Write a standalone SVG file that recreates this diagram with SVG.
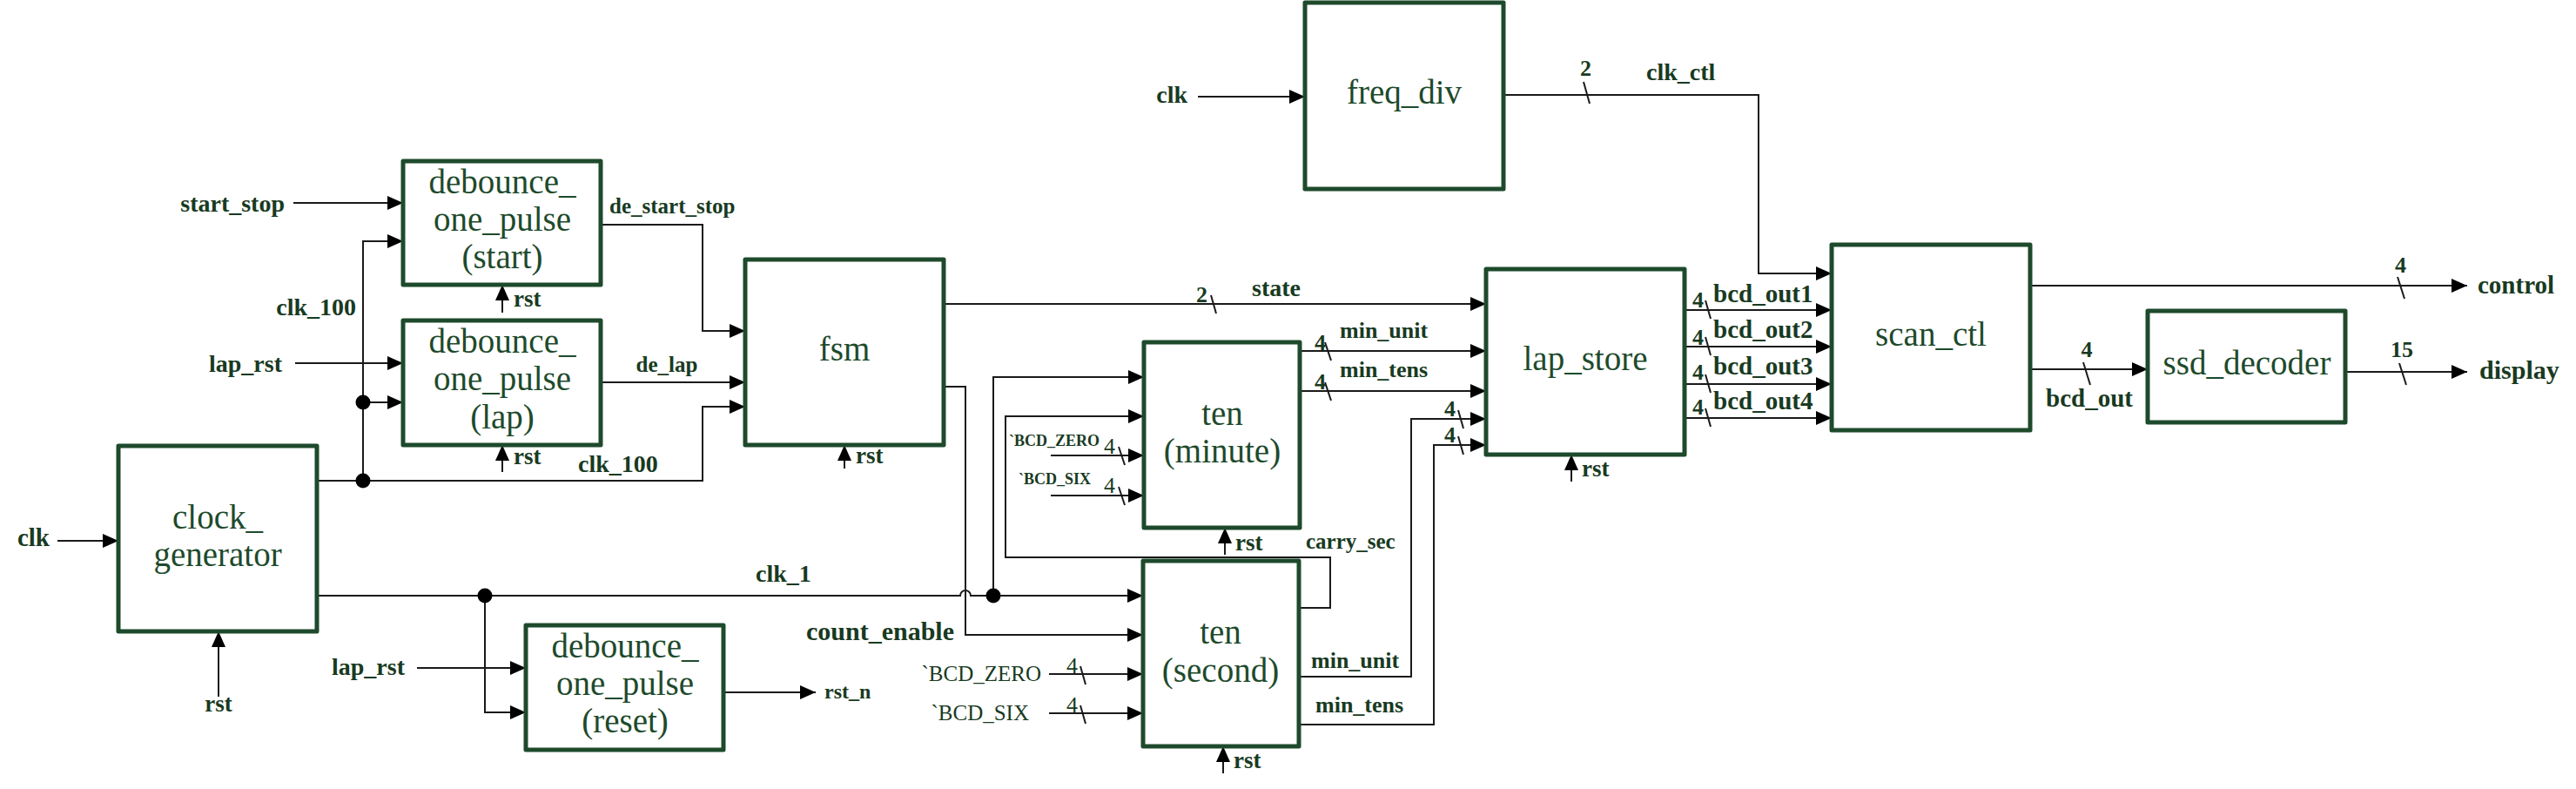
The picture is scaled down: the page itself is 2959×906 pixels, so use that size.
<svg xmlns="http://www.w3.org/2000/svg" width="2959" height="906" viewBox="0 0 2959 906">
<defs>
<style>
.box{fill:#fff;stroke:#1e4a2c;stroke-width:5;stroke-linejoin:round}
.bt{font-family:"Liberation Serif","Times New Roman",serif;font-size:39px;fill:#1e4a2c;text-anchor:middle}
.w{fill:none;stroke:#1a1a1a;stroke-width:2}
.a{marker-end:url(#arr)}
.dot{fill:#000}
.lb{font-family:"Liberation Serif","Times New Roman",serif;font-weight:bold;fill:#183a22;font-size:28px}
.sm{font-size:26px}
.r{font-family:"Liberation Serif","Times New Roman",serif;fill:#183a22}
.e{text-anchor:end}
.m{text-anchor:middle}
.sl{stroke:#1a1a1a;stroke-width:2}
</style>
<marker id="arr" markerUnits="userSpaceOnUse" markerWidth="18" markerHeight="16" refX="18" refY="8" orient="auto">
<path d="M0,0 L18,8 L0,16 Z" fill="#000"/>
</marker>
</defs>
<rect width="2959" height="906" fill="#fff"/>

<g id="connectors">
<path class="w a" d="M66,621 H136"/>
<path class="w a" d="M251,800 V725"/>
<path class="w a" d="M364,552 H807 V467 H856"/>
<path class="w a" d="M417,552 V277 H463"/>
<path class="w a" d="M417,462 H463"/>
<circle class="dot" cx="417" cy="552" r="8.5"/>
<circle class="dot" cx="417" cy="462" r="8.5"/>
<path class="w a" d="M337,233 H463"/>
<path class="w a" d="M339,417 H463"/>
<path class="w a" d="M577,359 V327"/>
<path class="w a" d="M577,542 V511"/>
<path class="w a" d="M690,258 H807 V380 H856"/>
<path class="w a" d="M690,439 H856"/>
<path class="w a" d="M970,538 V511"/>
<path class="w a" d="M1084,349 H1707"/>
<line class="sl" x1="1391" y1="339" x2="1397" y2="360"/>
<path class="w a" d="M1084,444 H1109 V729 H1313"/>
<path class="w a" d="M364,684 H1103 A6,6 0 0 1 1115,684 H1313"/>
<path class="w a" d="M1141,684 V433 H1314"/>
<path class="w a" d="M557,684 V818 H604"/>
<circle class="dot" cx="557" cy="684" r="8.5"/>
<circle class="dot" cx="1141" cy="684" r="8.5"/>
<path class="w a" d="M1492,698 H1528 V640 H1155 V478 H1314"/>
<path class="w a" d="M1407,637 V606"/>
<path class="w a" d="M1405,888 V857"/>
<path class="w a" d="M1207,523 H1314"/>
<line class="sl" x1="1285" y1="513" x2="1292" y2="534"/>
<path class="w a" d="M1207,569 H1314"/>
<line class="sl" x1="1285" y1="559" x2="1292" y2="580"/>
<path class="w a" d="M1205,774 H1313"/>
<line class="sl" x1="1241" y1="765" x2="1247" y2="786"/>
<path class="w a" d="M1205,819 H1313"/>
<line class="sl" x1="1241" y1="810" x2="1247" y2="831"/>
<path class="w a" d="M1493,403 H1707"/>
<line class="sl" x1="1522" y1="393" x2="1529" y2="414"/>
<path class="w a" d="M1493,449 H1707"/>
<line class="sl" x1="1522" y1="439" x2="1529" y2="460"/>
<path class="w a" d="M1492,777 H1621 V481 H1707"/>
<line class="sl" x1="1675" y1="471" x2="1681" y2="492"/>
<path class="w a" d="M1492,832 H1647 V511 H1707"/>
<line class="sl" x1="1675" y1="501" x2="1681" y2="522"/>
<path class="w a" d="M1805,553 V522"/>
<path class="w a" d="M1935,356 H2104"/>
<line class="sl" x1="1959" y1="345" x2="1965" y2="366"/>
<path class="w a" d="M1935,398 H2104"/>
<line class="sl" x1="1959" y1="387" x2="1965" y2="408"/>
<path class="w a" d="M1935,441 H2104"/>
<line class="sl" x1="1959" y1="430" x2="1965" y2="451"/>
<path class="w a" d="M1935,480 H2104"/>
<line class="sl" x1="1959" y1="469" x2="1965" y2="490"/>
<path class="w a" d="M1376,111 H1499"/>
<path class="w a" d="M1727,109 H2020 V314 H2104"/>
<line class="sl" x1="1819" y1="94" x2="1826" y2="119"/>
<path class="w a" d="M2332,328 H2834"/>
<line class="sl" x1="2754" y1="318" x2="2762" y2="343"/>
<path class="w a" d="M2332,424 H2467"/>
<line class="sl" x1="2393" y1="416" x2="2401" y2="442"/>
<path class="w a" d="M2694,427 H2834"/>
<line class="sl" x1="2756" y1="417" x2="2764" y2="442"/>
<path class="w a" d="M479,767 H604"/>
<path class="w a" d="M831,795 H937"/>

<text class="lb e" x="57" y="627" style="font-size:29px">clk</text>
<text class="lb m" x="251" y="817" style="font-size:27px">rst</text>
<text class="lb e" x="327" y="243">start_stop</text>
<text class="lb e" x="324" y="427">lap_rst</text>
<text class="lb e" x="409" y="362">clk_100</text>
<text class="lb" x="664" y="542">clk_100</text>
<text class="lb" x="590" y="352" style="font-size:27px">rst</text>
<text class="lb" x="590" y="533" style="font-size:27px">rst</text>
<text class="lb" x="700" y="245" style="font-size:25px">de_start_stop</text>
<text class="lb m" x="766" y="427" style="font-size:25px">de_lap</text>
<text class="lb" x="983" y="532" style="font-size:27px">rst</text>
<text class="lb sm" x="1374" y="347">2</text>
<text class="lb" x="1438" y="340">state</text>
<text class="lb e" x="1096" y="735" style="font-size:30px">count_enable</text>
<text class="lb" x="868" y="668">clk_1</text>
<text class="lb" x="1500" y="630" style="font-size:25px">carry_sec</text>
<text class="lb" x="1419" y="632" style="font-size:27px">rst</text>
<text class="lb" x="1417" y="882" style="font-size:27px">rst</text>
<text class="lb e" x="1263" y="512" style="font-size:18px">`BCD_ZERO</text>
<text class="lb e" x="1253" y="556" style="font-size:18px">`BCD_SIX</text>
<text class="r" x="1268" y="521" style="font-size:26px">4</text>
<text class="r" x="1268" y="566" style="font-size:26px">4</text>
<text class="r e" x="1196" y="782" style="font-size:25px">`BCD_ZERO</text>
<text class="r e" x="1182" y="827" style="font-size:25px">`BCD_SIX</text>
<text class="r" x="1225" y="773" style="font-size:26px">4</text>
<text class="r" x="1225" y="818" style="font-size:26px">4</text>
<text class="lb sm" x="1510" y="402">4</text>
<text class="lb" x="1539" y="388" style="font-size:26px">min_unit</text>
<text class="lb sm" x="1510" y="447">4</text>
<text class="lb" x="1539" y="433" style="font-size:26px">min_tens</text>
<text class="lb" x="1506" y="767" style="font-size:26px">min_unit</text>
<text class="lb" x="1511" y="818" style="font-size:26px">min_tens</text>
<text class="lb sm" x="1659" y="478">4</text>
<text class="lb sm" x="1659" y="508">4</text>
<text class="lb" x="1817" y="547" style="font-size:27px">rst</text>
<text class="lb sm" x="1944" y="353">4</text>
<text class="lb sm" x="1944" y="396">4</text>
<text class="lb sm" x="1944" y="436">4</text>
<text class="lb sm" x="1944" y="476">4</text>
<text class="lb" x="1968" y="347" style="font-size:29px">bcd_out1</text>
<text class="lb" x="1968" y="388" style="font-size:29px">bcd_out2</text>
<text class="lb" x="1968" y="430" style="font-size:29px">bcd_out3</text>
<text class="lb" x="1968" y="470" style="font-size:29px">bcd_out4</text>
<text class="lb e" x="1364" y="118">clk</text>
<text class="lb sm" x="1815" y="87">2</text>
<text class="lb" x="1891" y="92">clk_ctl</text>
<text class="lb sm" x="2751" y="313">4</text>
<text class="lb" x="2846" y="337" style="font-size:29px">control</text>
<text class="lb sm m" x="2397" y="410">4</text>
<text class="lb" x="2350" y="467" style="font-size:29px">bcd_out</text>
<text class="lb sm" x="2746" y="410">15</text>
<text class="lb" x="2848" y="435" style="font-size:30px">display</text>
<text class="lb e" x="465" y="775">lap_rst</text>
<text class="lb" x="947" y="802" style="font-size:24px">rst_n</text>
</g>

<g id="clock_generator">
<rect class="box" x="136" y="512" width="228" height="213"/>
<text class="bt" x="250" y="607">clock_</text>
<text class="bt" x="250" y="650">generator</text>
</g>
<g id="debounce_start">
<rect class="box" x="463" y="185" width="227" height="142"/>
<text class="bt" x="577" y="222">debounce_</text>
<text class="bt" x="577" y="265">one_pulse</text>
<text class="bt" x="577" y="308">(start)</text>
</g>
<g id="debounce_lap">
<rect class="box" x="463" y="368" width="227" height="143"/>
<text class="bt" x="577" y="405">debounce_</text>
<text class="bt" x="577" y="448">one_pulse</text>
<text class="bt" x="577" y="492">(lap)</text>
</g>
<g id="debounce_reset">
<rect class="box" x="604" y="718" width="227" height="143"/>
<text class="bt" x="718" y="755">debounce_</text>
<text class="bt" x="718" y="798">one_pulse</text>
<text class="bt" x="718" y="841">(reset)</text>
</g>
<g id="fsm">
<rect class="box" x="856" y="298" width="228" height="213"/>
<text class="bt" x="970" y="414">fsm</text>
</g>
<g id="ten_minute">
<rect class="box" x="1314" y="393" width="179" height="213"/>
<text class="bt" x="1404" y="488">ten</text>
<text class="bt" x="1404" y="531">(minute)</text>
</g>
<g id="ten_second">
<rect class="box" x="1313" y="644" width="179" height="213"/>
<text class="bt" x="1402" y="739">ten</text>
<text class="bt" x="1402" y="783">(second)</text>
</g>
<g id="lap_store">
<rect class="box" x="1707" y="309" width="228" height="213"/>
<text class="bt" x="1821" y="425">lap_store</text>
</g>
<g id="freq_div">
<rect class="box" x="1499" y="3" width="228" height="214"/>
<text class="bt" x="1613" y="119">freq_div</text>
</g>
<g id="scan_ctl">
<rect class="box" x="2104" y="281" width="228" height="213"/>
<text class="bt" x="2218" y="397">scan_ctl</text>
</g>
<g id="ssd_decoder">
<rect class="box" x="2467" y="357" width="227" height="128"/>
<text class="bt" x="2581" y="430">ssd_decoder</text>
</g>
</svg>
